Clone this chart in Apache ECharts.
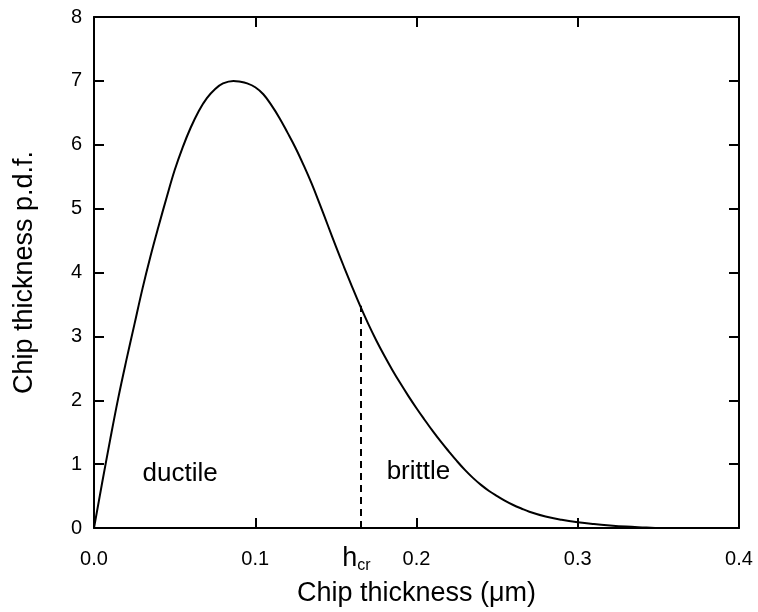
<!DOCTYPE html>
<html>
<head>
<meta charset="utf-8">
<script src="https://cdn.jsdelivr.net/npm/echarts@6/dist/echarts.min.js"></script>
<style>
  html, body { margin: 0; padding: 0; background: #fff; }
  #main { width: 758px; height: 612px; }
</style>
</head>
<body>
<div id="main"></div>
<script>
// 芯片厚度 (um) 和 概率密度 - 从图上读的
var thickness = [0, 0.005, 0.01, 0.015, 0.02, 0.025, 0.03, 0.035, 0.04, 0.045, 0.05, 0.055,
  0.06, 0.065, 0.07, 0.075, 0.08, 0.0865, 0.09, 0.095, 0.1, 0.105, 0.11, 0.115,
  0.12, 0.125, 0.13, 0.135, 0.14, 0.145, 0.15, 0.155, 0.16, 0.165, 0.17, 0.175,
  0.18, 0.185, 0.19, 0.195, 0.2, 0.205, 0.21, 0.215, 0.22, 0.225, 0.23, 0.235,
  0.24, 0.245, 0.25, 0.255, 0.26, 0.265, 0.27, 0.28, 0.29, 0.3, 0.31, 0.32,
  0.33, 0.34, 0.348];
var pdf = [0, 0.7, 1.38, 2.03, 2.62, 3.18, 3.74, 4.25, 4.72, 5.17, 5.6, 5.96,
  6.27, 6.53, 6.73, 6.87, 6.96, 7.0, 6.99, 6.96, 6.9, 6.79, 6.62, 6.42,
  6.19, 5.95, 5.68, 5.39, 5.07, 4.74, 4.41, 4.09, 3.78, 3.48, 3.2, 2.94,
  2.7, 2.475, 2.265, 2.065, 1.875, 1.695, 1.52, 1.355, 1.2, 1.05, 0.91, 0.785,
  0.675, 0.58, 0.5, 0.425, 0.36, 0.305, 0.255, 0.18, 0.128, 0.09, 0.062, 0.04,
  0.022, 0.009, 0];
var hcr = 0.1652;     // 临界厚度
var hcrPdf = 3.48;
var xTicks = [0, 0.1, 0.2, 0.3, 0.4];
var yTicks = [0, 1, 2, 3, 4, 5, 6, 7, 8];
var regionNames = ['ductile', 'brittle'];
var regionPos = [[0.0534, 0.85], [0.2012, 0.88]];

var font = 'Liberation Sans, Arial, sans-serif';
var seriesData = [];
for (var i = 0; i < thickness.length; i++) {
    seriesData.push([thickness[i], pdf[i]]);
}

var chart = echarts.init(document.getElementById('main'));

function frameAxis(pos, isX) {
    return {
        type: 'value',
        position: pos,
        min: isX ? xTicks[0] : yTicks[0],
        max: isX ? xTicks[xTicks.length - 1] : yTicks[yTicks.length - 1],
        interval: isX ? 0.1 : 1,
        axisLine: { show: true, onZero: false, lineStyle: { color: '#000', width: 2 } },
        axisTick: { show: true, inside: true, length: 10, lineStyle: { color: '#000', width: 2 } },
        axisLabel: { show: false },
        splitLine: { show: false }
    };
}

var option = {
    backgroundColor: '#fff',
    animation: false,
    grid: { left: 94, right: 19, top: 17, bottom: 74 },
    xAxis: [{
        type: 'value',
        min: 0,
        max: 0.4,
        interval: 0.1,
        name: 'Chip thickness (μm)',
        nameLocation: 'middle',
        nameGap: 52,
        nameTextStyle: { fontFamily: font, fontSize: 27, color: '#000' },
        axisLine: { show: true, onZero: false, lineStyle: { color: '#000', width: 2 } },
        axisTick: { show: true, inside: true, length: 10, lineStyle: { color: '#000', width: 2 } },
        axisLabel: {
            fontFamily: font, fontSize: 20, color: '#000', margin: 21,
            formatter: function (v) { return v.toFixed(1); }
        },
        splitLine: { show: false }
    }, frameAxis('top', true)],
    yAxis: [{
        type: 'value',
        min: 0,
        max: 8,
        interval: 1,
        name: 'Chip thickness p.d.f.',
        nameLocation: 'middle',
        nameGap: 56,
        nameTextStyle: { fontFamily: font, fontSize: 27, color: '#000' },
        axisLine: { show: true, onZero: false, lineStyle: { color: '#000', width: 2 } },
        axisTick: { show: true, inside: true, length: 10, lineStyle: { color: '#000', width: 2 } },
        axisLabel: { fontFamily: font, fontSize: 20, color: '#000', margin: 12 },
        splitLine: { show: false }
    }, frameAxis('right', false)],
    series: [{
        type: 'line',
        data: seriesData,
        smooth: 0.4,
        showSymbol: false,
        lineStyle: { color: '#000', width: 2 },
        markLine: {
            silent: true,
            symbol: 'none',
            label: { show: false },
            lineStyle: { color: '#000', width: 2, type: [7, 5] },
            data: [[{ coord: [hcr, 0] }, { coord: [hcr, hcrPdf] }]]
        },
        markPoint: {
            symbol: 'circle',
            symbolSize: 0,
            label: {
                show: true,
                position: 'inside',
                fontFamily: font,
                fontSize: 26,
                color: '#000'
            },
            data: [
                { coord: regionPos[0], value: regionNames[0] },
                { coord: regionPos[1], value: regionNames[1] },
                {
                    coord: [hcr, 0],
                    value: 'hcr',
                    label: {
                        offset: [-4, 38],
                        formatter: '{h|h}{s|cr}',
                        rich: {
                            h: { fontFamily: font, fontSize: 27, color: '#000', padding: [0, 0, 14, 0] },
                            s: { fontFamily: font, fontSize: 16, color: '#000' }
                        }
                    }
                }
            ]
        }
    }]
};

chart.setOption(option);
</script>
</body>
</html>
